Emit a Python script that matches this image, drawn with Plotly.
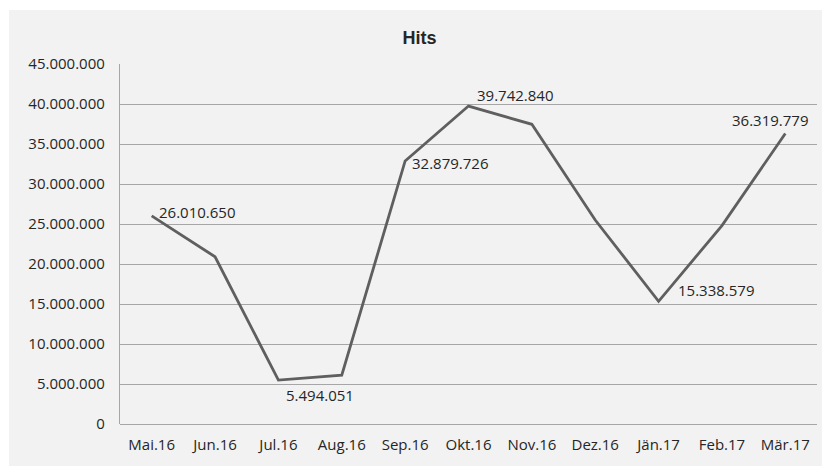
import plotly.graph_objects as go

months = ["Mai.16", "Jun.16", "Jul.16", "Aug.16", "Sep.16", "Okt.16",
          "Nov.16", "Dez.16", "Jän.17", "Feb.17", "Mär.17"]
hits = [26010650, 20900000, 5494051, 6100000, 32879726, 39742840,
        37460000, 25500000, 15338579, 24800000, 36319779]
labelled = ["Mai.16", "Jul.16", "Sep.16", "Okt.16", "Jän.17", "Mär.17"]
label_shift = {"Mai.16": (6, 4), "Jul.16": (7, -15), "Sep.16": (6, -2),
               "Okt.16": (7, 11), "Jän.17": (18, 11), "Mär.17": (-54, 13)}
y_ticks = list(range(0, 45000001, 5000000))

def fmt(v):
    return f"{v:,}".replace(",", ".")

FONT = "Open Sans"
TXT = "#262626"
BG = "#f2f2f2"

# page has an 8px body margin; the figure is sized to fill the rest
W, H = 822, 458
L, T = 112, 56
R = W - 809
B = H - 416
pw, ph = W - L - R, H - T - B

fig = go.Figure()
fig.add_trace(go.Scatter(x=months, y=hits, mode="lines",
                         line=dict(color="#5f5f5f", width=2.8),
                         hoverinfo="skip"))

for m, v in zip(months, hits):
    if m in labelled:
        dx, dy = label_shift[m]
        fig.add_annotation(x=m, y=v, text=fmt(v), showarrow=False,
                           xanchor="left", yanchor="middle",
                           xshift=dx, yshift=dy, borderpad=0,
                           font=dict(family=FONT, size=15, color=TXT))

# gray chart panel
fig.add_shape(type="rect", xref="paper", yref="paper", layer="below",
              x0=(1 - L) / pw, x1=(W - L) / pw + 0.01,
              y0=-B / ph - 0.01, y1=(H - B - 2) / ph,
              fillcolor=BG, line=dict(width=0))

fig.update_layout(
    width=W, height=H,
    margin=dict(l=L, r=R, t=T, b=B),
    paper_bgcolor="white", plot_bgcolor=BG,
    showlegend=False,
    title=dict(text="<b>Hits</b>", x=(1 + W) / 2 / W, xanchor="center",
               y=1 - 30 / H, yanchor="middle",
               font=dict(family="Liberation Sans", size=18, color=TXT)),
    xaxis=dict(type="category", categoryorder="array", categoryarray=months,
               range=[-0.5, len(months) - 0.5], showgrid=False,
               showline=False, zeroline=False, ticks="",
               tickfont=dict(family=FONT, size=15, color=TXT),
               ticklabelstandoff=10),
    yaxis=dict(range=[0, 45000000], tickvals=y_ticks,
               ticktext=[fmt(v) for v in y_ticks],
               showgrid=True, gridcolor="#a6a6a6", gridwidth=1.3,
               zeroline=True, zerolinecolor="#a6a6a6", zerolinewidth=1.3,
               showline=True, linecolor="#a6a6a6", linewidth=1.3,
               ticks="", ticklabelstandoff=11,
               tickfont=dict(family=FONT, size=15, color=TXT)),
)

fig.write_html("out.html")
